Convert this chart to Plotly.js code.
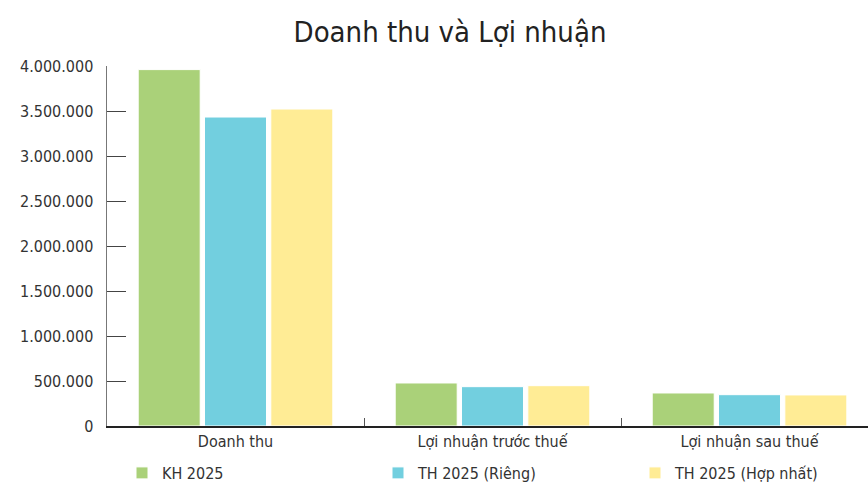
<!DOCTYPE html>
<html>
<head>
<meta charset="utf-8">
<script src="https://cdn.plot.ly/plotly-3.0.1.min.js"></script>
<style>
  html, body { margin: 0; padding: 0; background: #fff; }
  #chart { width: 868px; height: 489px; }
</style>
</head>
<body>
<div id="chart"></div>
<script>
// Danh mục và số liệu
const categories = ["Doanh thu", "Lợi nhuận trước thuế", "Lợi nhuận sau thuế"];
const seriesNames = ["KH 2025", "TH 2025 (Riêng)", "TH 2025 (Hợp nhất)"];
const kh2025 = [3960000, 478000, 367000];
const thRieng = [3433000, 437000, 348000];
const thHopNhat = [3522000, 448000, 345000];
const yTickVals = [0, 500000, 1000000, 1500000, 2000000, 2500000, 3000000, 3500000, 4000000];
const yTickText = ["0", "500.000", "1.000.000", "1.500.000", "2.000.000", "2.500.000", "3.000.000", "3.500.000", "4.000.000"];

const colors = ["#AAD179", "#72CFDF", "#FFEC95"];
const FONT = "'Liberation Sans Narrow', 'DejaVu Sans Condensed', Roboto, sans-serif";

// mỗi series một legend riêng để đặt đúng cột như hình gốc
const legendIds = ["legend", "legend2", "legend3"];
const legendStartX = [122, 378, 635];

const allValues = [kh2025, thRieng, thHopNhat];
const traces = allValues.map((vals, i) => ({
    type: "bar",
    name: seriesNames[i],
    x: categories,
    y: vals,
    legend: legendIds[i],
    marker: { color: colors[i], line: { color: "#ffffff", width: 1 } },
    hoverinfo: "x+y+name"
}));

const layout = {
    width: 868,
    height: 489,
    margin: { l: 107, r: 0, t: 66, b: 63 },
    paper_bgcolor: "#ffffff",
    plot_bgcolor: "#ffffff",
    font: { family: FONT, color: "#333333", size: 16 },
    title: {
        text: "Doanh thu và Lợi nhuận",
        font: { family: FONT, size: 29, color: "#222222" },
        x: 450 / 868, xanchor: "center",
        y: 0.935, yanchor: "middle"
    },
    barmode: "group",
    bargap: 0.226,
    bargroupgap: 0.065,
    xaxis: {
        type: "category",
        range: [-0.5, 2.461],
        showgrid: false,
        showline: true,
        linecolor: "#222222",
        linewidth: 1.5,
        ticks: "inside",
        tickson: "boundaries",
        ticklen: 8,
        tickcolor: "#555555",
        tickfont: { family: FONT, size: 16, color: "#333333" }
    },
    yaxis: {
        range: [0, 4000000],
        tickvals: yTickVals,
        ticktext: yTickText,
        showgrid: false,
        zeroline: false,
        showline: true,
        linecolor: "#777777",
        linewidth: 1.5,
        ticks: "inside",
        ticklen: 19,
        tickcolor: "#444444",
        ticklabelstandoff: 9,
        tickfont: { family: FONT, size: 16, color: "#333333" }
    },
    showlegend: true
};

legendIds.forEach((id, i) => {
    layout[id] = {
        orientation: "h",
        xref: "container",
        yref: "container",
        x: legendStartX[i] / 868,
        xanchor: "left",
        y: (489 - 473) / 489,
        yanchor: "middle",
        font: { family: FONT, size: 16, color: "#333333" },
        bgcolor: "rgba(0,0,0,0)"
    };
});

Plotly.newPlot("chart", traces, layout, { displayModeBar: false, staticPlot: true });
</script>
</body>
</html>
